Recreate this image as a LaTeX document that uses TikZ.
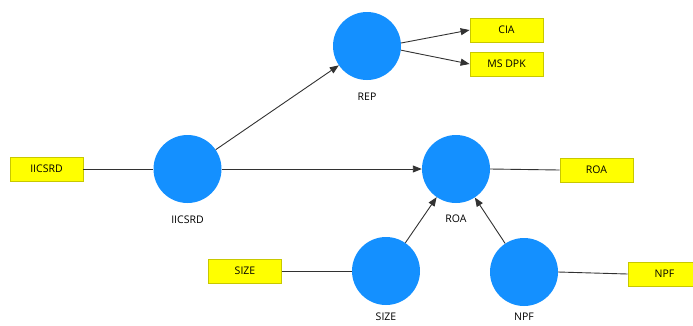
\documentclass[tikz,border=0pt]{standalone}
\usepackage{fontspec}
\setmainfont{Open Sans}
\usetikzlibrary{arrows.meta}
\definecolor{lvblue}{RGB}{20,144,255}
\definecolor{indyellow}{RGB}{255,255,0}
\definecolor{indborder}{RGB}{200,200,0}
\definecolor{linegray}{RGB}{50,50,50}
\tikzset{
  latent/.style={circle, fill=lvblue, draw=none, minimum size=68pt, inner sep=0pt},
  indbox/.style={rectangle, fill=indyellow, draw=indborder, line width=0.8pt, minimum width=73pt, minimum height=24pt, inner sep=0pt, font=\fontsize{10.5}{12}\selectfont},
  lvlabel/.style={font=\fontsize{10.5}{12}\selectfont, inner sep=0pt},
  path/.style={draw=linegray, line width=0.9pt, -{Triangle[length=9pt,width=7pt]}},
  outer/.style={draw=linegray, line width=0.9pt}
}
\begin{document}
\begin{tikzpicture}[x=1pt,y=-1pt]
\useasboundingbox (0,0) rectangle (693,325);
\clip (0,0) rectangle (693,325);
% latent variables
\node[latent] (rep) at (367,46) {};
\node[latent] (iic) at (187.5,169) {};
\node[latent] (roa) at (456,169) {};
\node[latent] (size) at (386,271) {};
\node[latent] (npf) at (524,272) {};
% labels
\node[lvlabel] (replab) at (367,97) {REP};
\node[lvlabel] (iiclab) at (187.5,220) {IICSRD};
\node[lvlabel] (roalab) at (456,219) {ROA};
\node[lvlabel] (sizelab) at (386,317) {SIZE};
\node[lvlabel] (npflab) at (524,317) {NPF};
% indicators
\node[indbox] (cia) at (506.5,30) {CIA};
\node[indbox] (msdpk) at (506.5,64) {MS DPK};
\node[indbox] (iicbox) at (46.5,169) {IICSRD};
\node[indbox] (roabox) at (596.5,170) {ROA};
\node[indbox] (sizebox) at (245,271) {SIZE};
\node[indbox] (npfbox) at (664.5,274) {NPF};
% outer model
\draw[path] (rep.5) -- (cia.west);
\draw[path] (rep.-7) -- (msdpk.west);
\draw[outer] (iicbox.east) -- (iic.west);
\draw[outer] (roa.east) -- (roabox.west);
\draw[outer] (sizebox.east) -- (size.west);
\draw[outer] (npf.east) -- (npfbox.west);
% inner model
\draw[path] (iic) -- (rep);
\draw[path] (iic.east) -- (roa.west);
\draw[path] (size) -- (roa);
\draw[path] (npf) -- (roa);
\end{tikzpicture}
\end{document}
